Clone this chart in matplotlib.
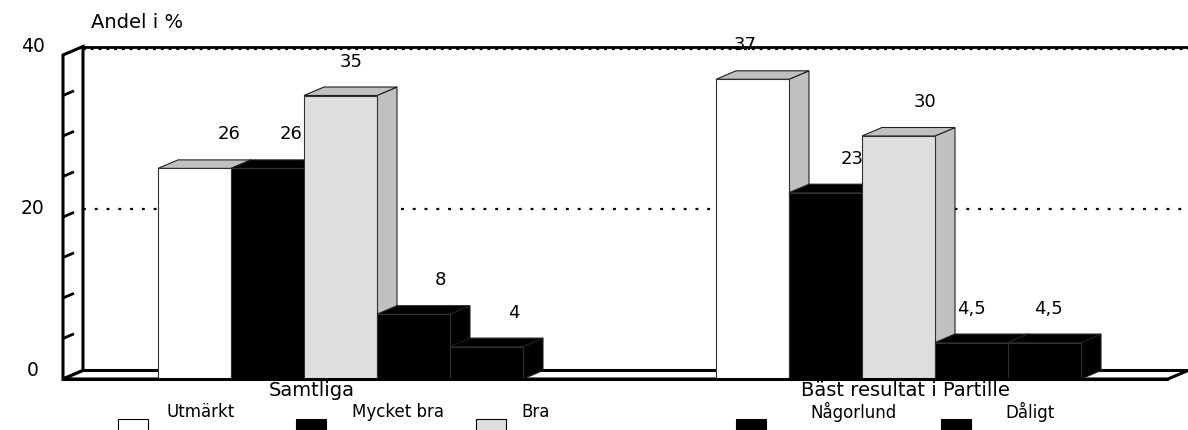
import matplotlib
matplotlib.use("Agg")
import matplotlib.pyplot as plt
from matplotlib.patches import Polygon, Rectangle

# ---- data -------------------------------------------------------------
categories = ["Samtliga", "Bäst resultat i Partille"]
ratings = ["Utmärkt", "Mycket bra", "Bra", "Någorlund", "Dåligt"]
samtliga = [26, 26, 35, 8, 4]
partille = [37, 23, 30, 4.5, 4.5]
value_text = [["26", "26", "35", "8", "4"],
              ["37", "23", "30", "4,5", "4,5"]]
y_ticks = [0, 20, 40]
y_minor = [5, 10, 15, 20, 25, 30, 35]
y_title = "Andel i %"

# ---- layout -----------------------------------------------------------
W, H = 1188, 430
BAR_PX = 73.0          # pixels per bar width (x unit)
VAL_PX = 8.1           # pixels per percentage point (y unit)
FLOOR_PX = 379.0       # pixel row of the front floor edge
DX = 20 / BAR_PX       # depth offset in x units
DY = 8.5 / VAL_PX      # depth offset in y units
YMAX = 40

def X(px):
    return px / BAR_PX

def Y(py):
    return (FLOOR_PX - py) / VAL_PX

front_cols = ["white", "black", "#dedede", "black", "black"]
depth_cols = ["#c0c0c0", "black", "#c0c0c0", "black", "black"]
group_left = [X(158), X(716)]
label_dx = [[0.48, 0.32, 0.14, 0.37, 0.37],
            [-0.10, 0.36, 0.36, 0.0, 0.05]]
cat_dx = [-0.39, 0.09]
FONT = "DejaVu Sans"

fig = plt.figure(figsize=(W / 100, H / 100), dpi=100)
fig.patch.set_facecolor("white")
ax = fig.add_axes([0, 0, 1, 1])
ax.set_xlim(0, W / BAR_PX)
ax.set_ylim(-(H - FLOOR_PX) / VAL_PX, FLOOR_PX / VAL_PX)
ax.axis("off")

xl, xr = X(63), X(1168)
LW = 2.2

# back wall, left wall and floor
ax.add_patch(Polygon([(xl + DX, DY), (xr + DX, DY), (xr + DX, YMAX + DY),
                      (xl + DX, YMAX + DY)], closed=True, fc="white",
                     ec="none", zorder=0))
ax.add_patch(Polygon([(xl, 0), (xl + DX, DY), (xl + DX, YMAX + DY),
                      (xl, YMAX)], closed=True, fc="white", ec="black",
                     lw=LW, joinstyle="miter", zorder=1))
ax.add_patch(Polygon([(xl, 0), (xr, 0), (xr + DX, DY), (xl + DX, DY)],
                     closed=True, fc="white", ec="black", lw=LW,
                     joinstyle="miter", zorder=1))

# gridlines on the back wall
ax.plot([xl + DX, xr + DX], [20 + DY, 20 + DY], color="black", lw=1.6,
        ls=(0, (1.3, 4.0)), zorder=1.5)
ax.plot([xl + DX, xr + DX], [YMAX + DY, YMAX + DY], color="black", lw=2.0,
        solid_capstyle="butt", zorder=30)
ax.plot([xl + DX, xr + DX], [YMAX + DY - 0.3, YMAX + DY - 0.3],
        color="black", lw=1.6, ls=(0, (1.3, 2.2)), zorder=30)

# minor ticks along the left wall
for v in y_minor:
    ax.plot([xl, xl + DX * 0.55], [v, v + DY * 0.55], color="black",
            lw=2.0, solid_capstyle="butt", zorder=2)

# y tick labels and axis title
for v in y_ticks:
    ax.text(X(33), v + DY, str(v), ha="center", va="center", fontsize=13.5,
            family=FONT)
ax.text(X(137), Y(22), y_title, ha="center", va="center", fontsize=14,
        family=FONT)

# 3D bars
for g, vals in enumerate([samtliga, partille]):
    for i, v in enumerate(vals):
        x0 = group_left[g] + i
        z = 3 + i
        ax.add_patch(Polygon([(x0 + 1, 0), (x0 + 1 + DX, DY),
                              (x0 + 1 + DX, v + DY), (x0 + 1, v)],
                             closed=True, fc=depth_cols[i], ec="#202020",
                             lw=0.8, zorder=z))
        ax.add_patch(Polygon([(x0, v), (x0 + 1, v), (x0 + 1 + DX, v + DY),
                              (x0 + DX, v + DY)], closed=True,
                             fc=depth_cols[i], ec="#202020", lw=0.8,
                             zorder=z))
        ax.bar(x0, v, width=1, align="edge", color=front_cols[i],
               edgecolor="#303030", linewidth=0.8, zorder=z)
        ax.text(x0 + 0.5 + label_dx[g][i], v + 34 / VAL_PX,
                value_text[g][i], ha="center", va="center", fontsize=13,
                family=FONT, zorder=20)

# front floor edge drawn over the bar bases
ax.plot([xl, xr], [0, 0], color="black", lw=LW, solid_capstyle="butt",
        zorder=15)

# category labels
for g, name in enumerate(categories):
    ax.text(group_left[g] + 2.5 + cat_dx[g], Y(390), name, ha="center",
            va="center", fontsize=14, family=FONT, zorder=0.5)

# legend
leg_text_x = [201, 398, 536, 853, 1030]
leg_box_x = [118, 296, 476, 736, 941]
for i, name in enumerate(ratings):
    ax.text(X(leg_text_x[i]), Y(412), name, ha="center", va="center",
            fontsize=12, family=FONT)
    ax.add_patch(Rectangle((X(leg_box_x[i]), Y(432)), X(30),
                           Y(419) - Y(432), fc=front_cols[i], ec="black",
                           lw=0.8, clip_on=False))

fig.savefig("out.png", dpi=100, facecolor="white")
